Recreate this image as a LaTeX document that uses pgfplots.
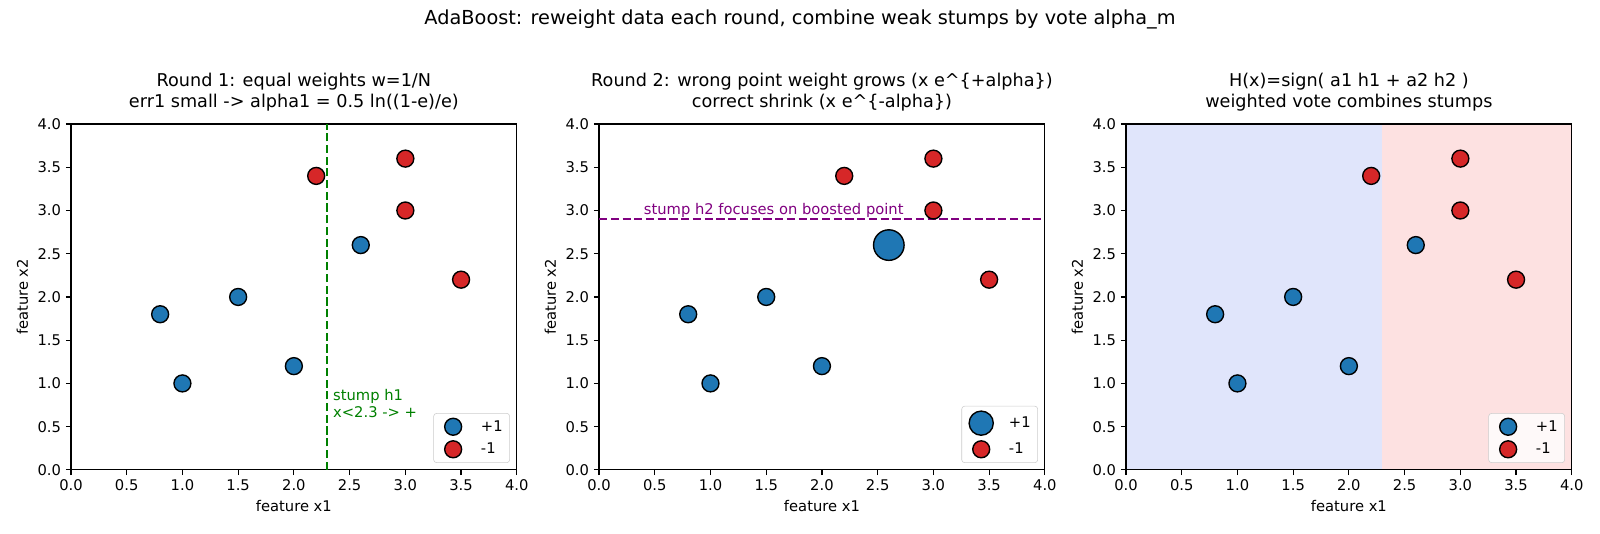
\documentclass[border=0pt]{standalone}
\usepackage{fontspec}
\setmainfont{DejaVu Sans}
\usepackage{pgfplots}
\usepackage{pgfplotstable}
\pgfplotsset{compat=1.18}

\definecolor{mplblue}{RGB}{31,119,180}
\definecolor{mplred}{RGB}{214,39,40}
\definecolor{mplgreen}{RGB}{0,128,0}
\definecolor{mplpurple}{RGB}{128,0,128}
\definecolor{regblue}{RGB}{224,229,251}
\definecolor{regred}{RGB}{253,225,225}

% class +1 points
\pgfplotstableread{
x y
0.8 1.8
1.0 1.0
1.5 2.0
2.0 1.2
2.6 2.6
}\pospts
% class +1 points that were classified correctly by h1
\pgfplotstableread{
x y
0.8 1.8
1.0 1.0
1.5 2.0
2.0 1.2
}\posok
% the misclassified point, boosted in round 2
\pgfplotstableread{
x y
2.6 2.6
}\posboost
% class -1 points
\pgfplotstableread{
x y
2.2 3.4
3.0 3.6
3.0 3.0
3.5 2.2
}\negpts

\newcommand\smallfont{\fontsize{10.6}{12.7}\selectfont}

\pgfplotsset{
  panel/.style={
    scale only axis, width=321pt, height=249pt,
    anchor=north west,
    xmin=0, xmax=4, ymin=0, ymax=4,
    xtick={0,0.5,1,1.5,2,2.5,3,3.5,4},
    ytick={0,0.5,1,1.5,2,2.5,3,3.5,4},
    xtick pos=bottom, ytick pos=left,
    tick align=outside,
    major tick length=3.7pt,
    every tick/.style={black, line width=0.85pt},
    axis line style={black, line width=0.85pt},
    tick label style={font=\smallfont},
    /pgf/number format/fixed,
    /pgf/number format/fixed zerofill,
    /pgf/number format/precision=1,
    /pgf/number format/assume math mode=true,
    xlabel={feature x1}, ylabel={feature x2},
    label style={font=\smallfont},
    title style={font=\fontsize{12.7}{15.2}\selectfont, align=center,
      inner sep=0pt, anchor=south, yshift=3pt},
    legend cell align=left,
    legend style={at={(1,0)}, anchor=south east, xshift=-5pt, yshift=5pt,
      draw=black!20, rounded corners=2pt, fill=white, fill opacity=0.8,
      draw opacity=1, text opacity=1,
      font=\smallfont,
      inner xsep=2pt, inner ysep=3pt, row sep=3pt,
      nodes={inner xsep=3pt}},
  },
  dot/.style={only marks, mark=*, mark size=6.1pt, color=black,
    mark options={draw=black, fill=#1, line width=1pt}},
  dotleg/.style 2 args={legend image code/.code={
      \path[draw=none, fill=none] (-2pt,0pt) -- (27pt,0pt);
      \draw[solid, black, fill=#1, line width=1pt, fill opacity=1, draw opacity=1]
        (10pt,0pt) circle (#2);}},
}

\begin{document}
\begin{tikzpicture}
\path[use as bounding box] (0pt,0pt) rectangle (1152pt,-383.76pt);

\node[font=\fontsize{13.9}{16.7}\selectfont] at (576pt,-14pt)
  {AdaBoost: reweight data each round, combine weak stumps by vote alpha\_m};

% ---- round 1 ----
\begin{axis}[panel, at={(51.1pt,-89.3pt)},
  title={Round 1: equal weights w=1/N\\err1 small -> alpha1 = 0.5 ln((1-e)/e)}]
\addplot[mplgreen, line width=1.6pt, dash pattern=on 5.9pt off 2.55pt, forget plot]
  coordinates {(2.3,0) (2.3,4)};
\addplot[dot=mplblue, dotleg={mplblue}{6.1pt}] table {\pospts};
\addlegendentry{+1}
\addplot[dot=mplred, dotleg={mplred}{6.1pt}] table {\negpts};
\addlegendentry{-1}
\node[anchor=base west, inner sep=0pt, text=mplgreen, font=\smallfont]
  at (axis cs:2.35,0.6) {x<2.3 -> +};
\node[anchor=base west, inner sep=0pt, text=mplgreen, font=\smallfont,
  yshift=12.7pt] at (axis cs:2.35,0.6) {stump h1};
\end{axis}

% ---- round 2 ----
\begin{axis}[panel, at={(431.3pt,-89.3pt)},
  title={Round 2: wrong point weight grows (x e\textasciicircum\{+alpha\})\\correct shrink (x e\textasciicircum\{-alpha\})}]
\addplot[mplpurple, line width=1.6pt, dash pattern=on 5.9pt off 2.55pt, forget plot]
  coordinates {(0,2.9) (4,2.9)};
\addplot[dot=mplblue, forget plot] table {\posok};
\addplot[dot=mplblue, mark size=11pt, dotleg={mplblue}{8.7pt}] table {\posboost};
\addlegendentry{+1}
\addplot[dot=mplred, dotleg={mplred}{6.1pt}] table {\negpts};
\addlegendentry{-1}
\node[anchor=base west, inner sep=0pt, text=mplpurple, font=\smallfont]
  at (axis cs:0.4,2.95) {stump h2 focuses on boosted point};
\end{axis}

% ---- combined vote ----
\begin{axis}[panel, at={(810.7pt,-89.3pt)}, axis on top,
  title={H(x)=sign( a1 h1 + a2 h2 )\\weighted vote combines stumps}]
\addplot[draw=none, fill=regblue, forget plot] coordinates {(0,0) (0,4) (2.3,4) (2.3,0)} -- cycle;
\addplot[draw=none, fill=regred, forget plot] coordinates {(2.3,0) (2.3,4) (4,4) (4,0)} -- cycle;
\addplot[dot=mplblue, dotleg={mplblue}{6.1pt}] table {\pospts};
\addlegendentry{+1}
\addplot[dot=mplred, dotleg={mplred}{6.1pt}] table {\negpts};
\addlegendentry{-1}
\end{axis}
\end{tikzpicture}
\end{document}
